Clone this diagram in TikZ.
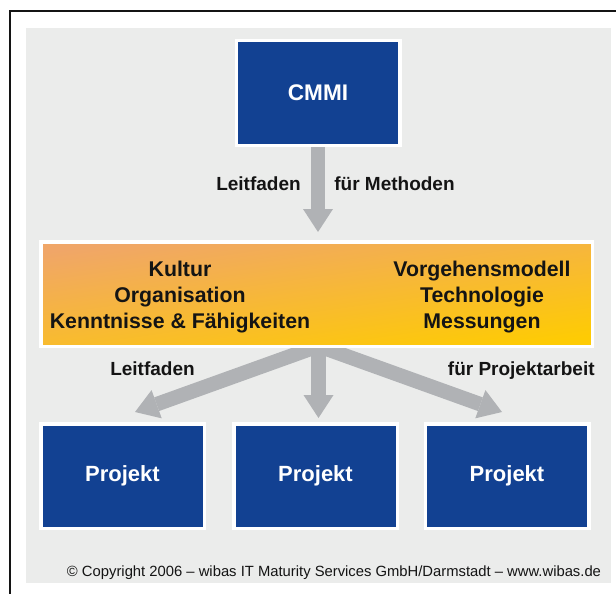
\documentclass[tikz,border=0pt]{standalone}
\usepackage{fontspec}
\setmainfont{Liberation Sans}
\usetikzlibrary{arrows.meta}

\definecolor{panelgray}{HTML}{EBECEB}
\definecolor{wibasblue}{HTML}{124192}
\definecolor{arrowgray}{HTML}{B0B2B5}
\definecolor{orangeA}{HTML}{F0A668}
\definecolor{orangeB}{HTML}{F6B444}
\definecolor{orangeC}{HTML}{FECB04}
\definecolor{ink}{HTML}{141414}

\pgfdeclarelayer{back}
\pgfdeclarelayer{arrowlayer}
\pgfsetlayers{back,arrowlayer,main}

\begin{document}
\begin{tikzpicture}[x=1pt,y=-1pt,
  bluebox/.style={draw=white, line width=3.5pt, fill=wibasblue, text=white,
    inner sep=0pt, minimum width=163.5pt, minimum height=104.5pt,
    font=\bfseries\fontsize{22}{26}\selectfont},
  orangebox/.style={draw=white, line width=3.5pt, inner sep=0pt,
    minimum width=551.5pt, minimum height=104.5pt,
    top color=orangeA, middle color=orangeB, bottom color=orangeC, shading angle=8},
  boxtext/.style={anchor=base, inner sep=0pt, text=ink,
    font=\bfseries\fontsize{21.3}{26}\selectfont},
  lbl/.style={anchor=base, inner sep=0pt, text=ink,
    font=\bfseries\fontsize{19}{23}\selectfont},
  fat/.style={draw=arrowgray, line width=14.5pt,
    -{Triangle[width=30pt,length=23pt,line width=0pt]}}
]
\useasboundingbox (0,0) rectangle (616,594);

\begin{pgfonlayer}{back}
  \fill[white] (0,0) rectangle (616,594);
  % outer frame lines
  \draw[line width=1.8pt, black!92] (10,594) -- (10,11) -- (616,11);
  % light gray panel
  \fill[panelgray] (26,28) rectangle (611,583);
\end{pgfonlayer}

% boxes
\node[bluebox, font=\bfseries\fontsize{22.6}{26}\selectfont] (cmmi) at (318,93) {CMMI};
\node[orangebox] (orga) at (316.5,294) {};
\node[bluebox] (p1) at (122.5,476) {Projekt};
\node[bluebox] (p2) at (315.5,476) {Projekt};
\node[bluebox] (p3) at (507,476) {Projekt};

% texts inside the orange box
\node[boxtext] (k1) at (180,276) {Kultur};
\node[boxtext] (k2) at (180,302) {Organisation};
\node[boxtext] (k3) at (180,328) {Kenntnisse \& Fähigkeiten};
\node[boxtext] (v1) at (482,276) {Vorgehensmodell};
\node[boxtext] (v2) at (482,302) {Technologie};
\node[boxtext] (v3) at (482,328) {Messungen};

% arrow labels
\node[lbl] (l1) at (258.5,190) {Leitfaden};
\node[lbl] (l2) at (394.5,190) {für Methoden};
\node[lbl] (l3) at (152.5,375.5) {Leitfaden};
\node[lbl] (l4) at (521.3,375.5) {für Projektarbeit};

% copyright line
\node[anchor=base, inner sep=0pt, text=ink, font=\fontsize{14.8}{18}\selectfont]
  (copy) at (334,576) {© Copyright 2006 – wibas IT Maturity Services GmbH/Darmstadt – www.wibas.de};

% arrow hub and tips
\coordinate (hub) at (318.5,346);
\coordinate (tipL) at (135,412);
\coordinate (tipC) at (318.5,418);
\coordinate (tipR) at (502,412);

\begin{pgfonlayer}{arrowlayer}
  \draw[fat, shorten >=8pt] (cmmi.south) -- (cmmi.south |- orga.north);
  \draw[fat] (hub) -- (tipL);
  \draw[fat] (hub) -- (tipR);
  \draw[fat] (hub) -- (tipC);
\end{pgfonlayer}
\end{tikzpicture}
\end{document}
